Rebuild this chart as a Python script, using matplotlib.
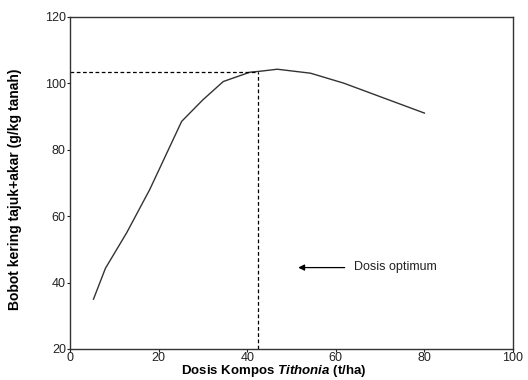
import matplotlib
matplotlib.use("Agg")
import matplotlib.pyplot as plt

plt.rcParams['font.family'] = ['Liberation Sans', 'DejaVu Sans']
plt.rcParams['mathtext.fontset'] = 'custom'
plt.rcParams['mathtext.bf'] = 'Liberation Sans:italic:bold'
plt.rcParams['mathtext.rm'] = 'Liberation Sans:bold'

dose = [5.3, 8.0, 12.8, 18.0, 25.2, 30.0, 34.6, 40.6, 43.0, 46.8, 54.3, 61.8, 80.0]
weight = [35.0, 44.3, 55.0, 68.0, 88.5, 95.0, 100.5, 103.3, 103.6, 104.2, 103.0, 100.0, 91.0]
opt_dose = 42.4
opt_weight = 103.4
xticks = [0, 20, 40, 60, 80, 100]
yticks = [20, 40, 60, 80, 100, 120]

fig = plt.figure(figsize=(5.28, 3.80), dpi=100)
ax = fig.add_axes([0.1326, 0.0816, 0.839, 0.8744])

ax.plot(dose, weight, color='#333333', lw=1.0)
ax.plot([0, opt_dose], [opt_weight, opt_weight], color='black', lw=0.9, ls=(0, (3, 2)))
ax.plot([opt_dose, opt_dose], [20, opt_weight], color='black', lw=0.9, ls=(0, (3, 2)))

ax.annotate('', xy=(51.5, 44.5), xytext=(62, 44.5),
            arrowprops=dict(arrowstyle='-|>', color='black', lw=0.9,
                            mutation_scale=9, shrinkA=0, shrinkB=0))
ax.text(64, 44.6, 'Dosis optimum', fontsize=9, va='center', ha='left', color='#222222')

ax.set_xlim(0, 100)
ax.set_ylim(20, 120)
ax.set_xticks(xticks)
ax.set_yticks(yticks)
ax.tick_params(axis='both', labelsize=9, length=2, width=0.8, pad=1, colors='#222222')
ax.tick_params(axis='x', pad=0)
for s in ax.spines.values():
    s.set_linewidth(1.0)
    s.set_color('#333333')

ax.set_xlabel(r'Dosis Kompos $\mathbf{Tithonia}$ (t/ha)', fontsize=9.5, fontweight='bold')
ax.xaxis.set_label_coords(0.46, -0.043)
ax.set_ylabel('Bobot kering tajuk+akar (g/kg tanah)', fontsize=10, fontweight='bold')
ax.yaxis.set_label_coords(-0.108, 0.48)

fig.savefig('out.png', dpi=100)
